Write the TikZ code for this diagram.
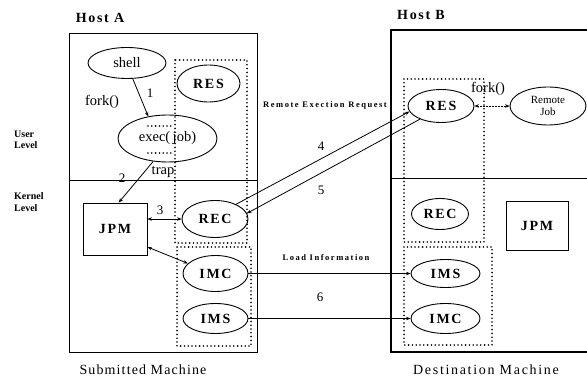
\documentclass[tikz,border=0pt]{standalone}
\usepackage{fontspec}
\setmainfont{Liberation Serif}
\newfontfamily\spacedfont[LetterSpace=12]{Liberation Serif}
\newfontfamily\widefont[LetterSpace=18]{Liberation Serif}
\newfontfamily\capfont[LetterSpace=8]{Liberation Serif}
\usetikzlibrary{shapes.geometric,arrows.meta}
\begin{document}
\begin{tikzpicture}[x=1pt,y=-1pt,
  hostbox/.style={draw, line width=1.1pt},
  divider/.style={line width=0.8pt},
  dotbox/.style={draw, line width=1.8pt, dash pattern=on 0pt off 3.8pt, line cap=round},
  proc/.style={draw, ellipse, line width=0.9pt, inner sep=0pt, font=\fontsize{14}{14}\selectfont\spacedfont\bfseries},
  usr/.style={draw, ellipse, line width=0.9pt, inner sep=0pt, align=center, font=\fontsize{14.5}{14.5}\selectfont},
  jpmbox/.style={draw, rectangle, line width=0.9pt, inner sep=0pt, font=\fontsize{14}{14}\selectfont\spacedfont\bfseries},
  arr/.style={line width=0.8pt, -{Stealth[length=4.5pt,width=3.5pt]}},
  darr/.style={line width=0.8pt, {Stealth[length=4.5pt,width=3.5pt]}-{Stealth[length=4.5pt,width=3.5pt]}},
  lbl/.style={inner sep=0pt, font=\fontsize{14.5}{14.5}\selectfont},
  num/.style={inner sep=0pt, font=\fontsize{13}{13}\selectfont},
  small/.style={inner sep=0pt, font=\fontsize{8.5}{8.5}\selectfont\widefont\bfseries},
  side/.style={inner sep=0pt, align=left, anchor=west, font=\fontsize{10}{11.5}\selectfont\bfseries},
  title/.style={inner sep=0pt, font=\fontsize{14}{14}\selectfont\spacedfont\bfseries},
  caption/.style={inner sep=0pt, font=\fontsize{14}{14}\selectfont\capfont}
]
\useasboundingbox (0,0) rectangle (587,385);

% hosts
\node[hostbox, minimum width=188, minimum height=319, anchor=north west, inner sep=0pt] (hostA) at (69,33) {};
\draw[divider] (69,180) -- (257,180);
\draw[hostbox] (592,30) -- (391,30) -- (391,352) -- (592,352);
\draw[divider] (391,178) -- (592,178);

\node[title] (hA) at (100,18) {Host A};
\node[title] (hB) at (421,15) {Host B};
\node[side] (ul) at (14,140) {User\\Level};
\node[side] (kl) at (14,202) {Kernel\\Level};

% dotted groups
\draw[dotbox] (175,60) rectangle (247,243);
\draw[dotbox] (177,247) rectangle (251,346);
\draw[dotbox] (404,79) rectangle (484,242);
\draw[dotbox] (404,247) rectangle (492,345);
\draw[dotbox] (148,126) -- (172,126);
\draw[dotbox] (148,153) -- (172,153);

% host A
\node[usr, minimum width=78, minimum height=31] (shell) at (127,63) {shell};
\node[proc, minimum width=63, minimum height=37] (resA) at (208.5,83.5) {RES};
\node[usr, minimum width=99, minimum height=47] (exec) at (167.5,138.5) {exec(\,job)};
\node[jpmbox, minimum width=64, minimum height=52] (jpmA) at (115,229) {JPM};
\node[proc, minimum width=66, minimum height=37] (recA) at (215,219) {REC};
\node[proc, minimum width=65, minimum height=36] (imcA) at (215.5,273.5) {IMC};
\node[proc, minimum width=65, minimum height=30] (imsA) at (215.5,318.5) {IMS};

% host B
\node[proc, minimum width=66, minimum height=33] (resB) at (441,106) {RES};
\node[usr, minimum width=76, minimum height=38, font=\fontsize{11}{12}\selectfont] (job) at (548,106) {Remote\\Job};
\node[proc, minimum width=57, minimum height=31] (recB) at (440,214) {REC};
\node[jpmbox, minimum width=62, minimum height=49] (jpmB) at (537,225.5) {JPM};
\node[proc, minimum width=69, minimum height=28] (imsB) at (445.5,273.5) {IMS};
\node[proc, minimum width=69, minimum height=30] (imcB) at (445.5,318.5) {IMC};

% connectors
\draw[arr] (shell.-70) -- (exec.131);
\draw[arr] (exec.-122) -- (jpmA.82);
\draw[darr] (jpmA.east |- recA.west) -- (recA.west);
\draw[darr] (jpmA.-29) -- (imcA.160);
\draw[arr] (recA.35) -- (resB.-170);
\draw[arr] (resB.-148) -- (recA.10);
\draw[darr, dash pattern=on 2pt off 1pt] (resB.east) -- (job.west);
\draw[arr] (imcA.east) -- (imcA.east -| imsB.west);
\draw[arr] (imsA.east) -- (imsA.east -| imcB.west);

% labels
\node[lbl] (forkA) at (102,102) {fork()};
\node[lbl] (forkB) at (488,89) {fork()};
\node[lbl] (trap) at (163,172) {trap};
\node[num] (n1) at (150,93) {1};
\node[num] (n2) at (122,178) {2};
\node[num] (n3) at (160,210) {3};
\node[num] (n4) at (321,146) {4};
\node[num] (n5) at (321,190) {5};
\node[num] (n6) at (320,297) {6};
\node[small] (rer) at (325,105) {Remote Exection Request};
\node[small] (li) at (326,258) {Load Information};
\node[caption] (capA) at (143,370) {Submitted Machine};
\node[caption, font=\fontsize{14}{14}\selectfont\spacedfont] (capB) at (486,370) {Destination Machine};
\end{tikzpicture}
\end{document}
